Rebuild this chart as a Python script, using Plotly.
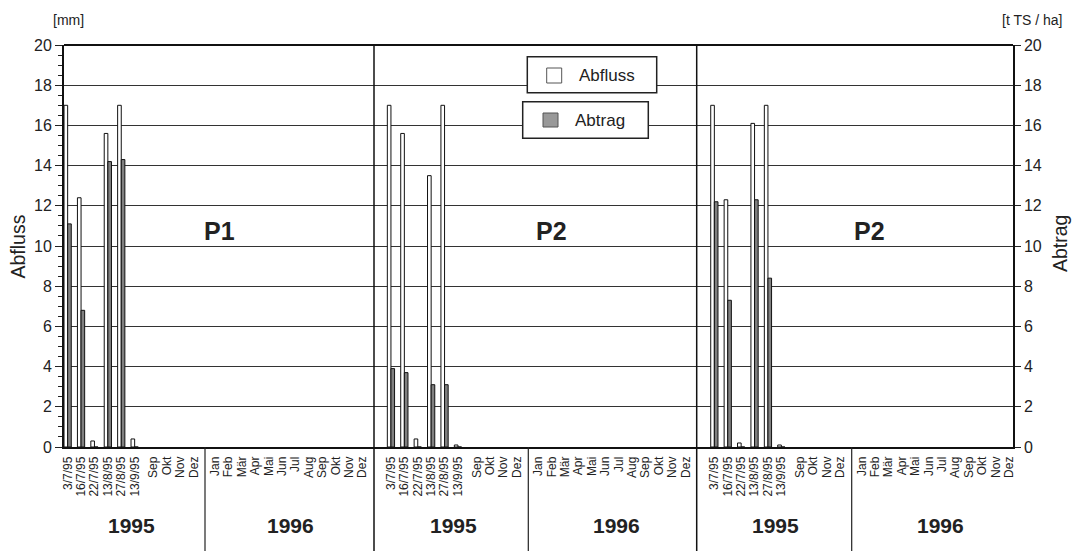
import plotly.graph_objects as go

# ---- data -------------------------------------------------------------
dates = ["3/7/95", "16/7/95", "22/7/95", "13/8/95", "27/8/95", "13/9/95"]
months_1995 = ["Sep", "Okt", "Nov", "Dez"]
months_1996 = ["Jan", "Feb", "Mär", "Apr", "Mai", "Jun",
               "Jul", "Aug", "Sep", "Okt", "Nov", "Dez"]
years = ["1995", "1996"]
panel_names = ["P1", "P2", "P2"]

# Abfluss [mm] and Abtrag [t TS / ha] per sampling date
abfluss_p1 = [17.0, 12.4, 0.3, 15.6, 17.0, 0.4]
abtrag_p1 = [11.1, 6.8, 0.0, 14.2, 14.3, 0.0]
abfluss_p2a = [17.0, 15.6, 0.4, 13.5, 17.0, 0.1]
abtrag_p2a = [3.9, 3.7, 0.0, 3.1, 3.1, 0.0]
abfluss_p2b = [17.0, 12.3, 0.2, 16.1, 17.0, 0.1]
abtrag_p2b = [12.2, 7.3, 0.0, 12.3, 8.4, 0.0]

abfluss = [abfluss_p1, abfluss_p2a, abfluss_p2b]
abtrag = [abtrag_p1, abtrag_p2a, abtrag_p2b]

# ---- geometry ---------------------------------------------------------
W, H = 1072, 551
L, R, T, B = 64, 59, 45, 104
PW, PH = W - L - R, H - T - B
FONT = "Liberation Sans, Arial, Helvetica, sans-serif"

panel_edges = [64, 374, 696.7, 1013]
first_offset = [3.65, 16.95, 17.65]   # px from panel edge to first bar group
slot = 13.4                            # px per category slot

date_pos = list(range(len(dates)))
m95_pos = [6.4 + i for i in range(len(months_1995))]
m96_pos = [11 + i for i in range(len(months_1996))]
year_split = 10.25

# label centres (px) for panel names and year captions
panel_label_x = [219.7, 551, 869]
year_label_x = [(131.7, 290), (453.3, 616.7), (775.7, 940)]


def px_x(x):
    return (x - L) / PW


def px_y(y):
    return (T + PH - y) / PH


def note(x, y, text, size, **kw):
    d = dict(xref="paper", yref="paper", x=px_x(x), y=px_y(y), text=text,
             showarrow=False, xanchor="center", yanchor="middle",
             font=dict(size=size, family=FONT, color="#222"))
    d.update(kw)
    return d


fig = go.Figure()

ax_names = ["x", "x2", "x3"]
for k in range(3):
    fig.add_trace(go.Bar(
        x=date_pos, y=abfluss[k], xaxis=ax_names[k], yaxis="y",
        width=0.27, offset=-0.27,
        marker=dict(color="white", line=dict(color="#111", width=1)),
        showlegend=False, hoverinfo="skip"))
    fig.add_trace(go.Bar(
        x=date_pos, y=abtrag[k], xaxis=ax_names[k], yaxis="y",
        width=0.27, offset=0.0,
        marker=dict(color="#808080", line=dict(color="#111", width=1)),
        showlegend=False, hoverinfo="skip"))

# carrier for the right-hand axis
fig.add_trace(go.Scatter(x=[None], y=[None], xaxis="x3", yaxis="y2",
                         showlegend=False, hoverinfo="skip"))

tickvals = date_pos + m95_pos + m96_pos
ticktext = dates + months_1995 + months_1996

layout = dict(
    width=W, height=H,
    margin=dict(l=L, r=R, t=T, b=B, pad=0),
    paper_bgcolor="white", plot_bgcolor="white",
    barmode="overlay",
    font=dict(family=FONT, color="#222"),
    showlegend=False,
)

shapes = []
annotations = []
for k in range(3):
    x0, x1 = panel_edges[k], panel_edges[k + 1]
    lo = -first_offset[k] / slot
    hi = lo + (x1 - x0) / slot
    name = "xaxis" if k == 0 else f"xaxis{k + 1}"
    layout[name] = dict(
        domain=[px_x(x0), px_x(x1)], range=[lo, hi], anchor="y",
        tickmode="array", tickvals=tickvals, ticktext=ticktext,
        tickangle=-90, tickfont=dict(size=12, color="#222", family=FONT),
        ticklabelstandoff=3,
        ticks="", showgrid=False, zeroline=False,
        showline=True, linecolor="#111", linewidth=1.5,
    )
    # 1995 / 1996 separator below the axis
    xs = x0 + (year_split - lo) * slot
    shapes.append(dict(type="line", xref="paper", yref="paper",
                       x0=px_x(xs), x1=px_x(xs), y0=px_y(H), y1=0,
                       line=dict(color="#222", width=1.2)))
    for cx, yr in zip(year_label_x[k], years):
        annotations.append(note(cx, 525.5, f"<b>{yr}</b>", 21))

# panel names
for cx, name in zip(panel_label_x, panel_names):
    annotations.append(note(cx, 231, f"<b>{name}</b>", 25))

layout["yaxis"] = dict(
    range=[0, 20], dtick=2, anchor="x", side="left",
    ticks="outside", ticklen=7, tickcolor="#222", tickwidth=1,
    minor=dict(dtick=0.5, ticks="outside", ticklen=4, tickcolor="#222",
               showgrid=False),
    tickfont=dict(size=16, color="#222", family=FONT),
    showgrid=True, gridcolor="#333333", gridwidth=1,
    zeroline=False, showline=True, linecolor="#111", linewidth=2,
)
layout["yaxis2"] = dict(
    range=[0, 20], dtick=2, overlaying="y", anchor="x3", side="right",
    ticks="outside", ticklen=6, tickcolor="#222", tickwidth=1,
    tickfont=dict(size=16, color="#222", family=FONT),
    showgrid=False, zeroline=False, showline=True,
    linecolor="#111", linewidth=1.5,
)

# top frame and panel separators
shapes.append(dict(type="line", xref="paper", yref="paper",
                   x0=0, x1=1, y0=1, y1=1,
                   line=dict(color="#111", width=2)))
for xe in panel_edges[1:3]:
    shapes.append(dict(type="line", xref="paper", yref="paper",
                       x0=px_x(xe), x1=px_x(xe), y0=px_y(H), y1=1,
                       line=dict(color="#111", width=1.5)))

# legend boxes
legend_items = [
    ("Abfluss", (527.3, 656.7, 56.7, 92.7), (546.7, 561.7, 68, 83), "white"),
    ("Abtrag", (522.7, 648.3, 101.7, 138.3), (543, 558, 113, 127), "#999999"),
]
for label, box, sq, fill in legend_items:
    shapes.append(dict(type="rect", xref="paper", yref="paper",
                       x0=px_x(box[0]), x1=px_x(box[1]),
                       y0=px_y(box[3]), y1=px_y(box[2]),
                       fillcolor="white", line=dict(color="#222", width=1.5),
                       layer="above"))
    shapes.append(dict(type="rect", xref="paper", yref="paper",
                       x0=px_x(sq[0]), x1=px_x(sq[1]),
                       y0=px_y(sq[3]), y1=px_y(sq[2]),
                       fillcolor=fill, line=dict(color="#555", width=1),
                       layer="above"))
    annotations.append(note(sq[1] + 15, (sq[2] + sq[3]) / 2, label, 17,
                            xanchor="left"))

# axis titles and units
annotations += [
    note(17.5, 247, "Abfluss", 19.5, textangle=-90),
    note(1060, 244, "Abtrag", 19.5, textangle=-90),
    note(68, 20, "[mm]", 14),
    note(1064, 20, "[t TS / ha]", 14, xanchor="right"),
]

layout["shapes"] = shapes
layout["annotations"] = annotations
fig.update_layout(**layout)

fig.write_html("out.html")
